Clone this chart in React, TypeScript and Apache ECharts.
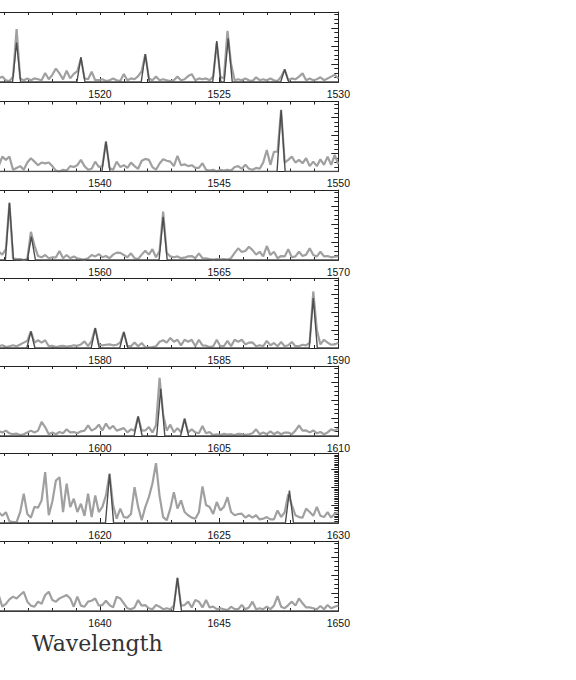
import React, { useEffect, useRef } from "react";
import * as echarts from "echarts";

// Panel wavelength ranges (each panel spans 20 units)
const panelStarts = [1510, 1530, 1550, 1570, 1590, 1610, 1630];
const panelSpan = 20;
// first tick label that falls inside the visible page
const firstVisibleLabelOffset = 10;
// light (observed) spectrum: sampled from panelStart + sampleOffset, every sampleStep
const sampleOffset = 5.6;
const sampleStep = 0.15;

const flux1 = [0.15,0.2,0.3,0.1,0.05,0.3,2.95,0.2,0.1,0.2,0.1,0.2,0.15,0.1,0.5,0.15,0.4,0.75,0.48,0.15,0.63,0.2,0.45,0.6,1.3,0.2,0.15,0.57,0.1,0.1,0.15,0.05,0.1,0.2,0.1,0.05,0.44,0.1,0.2,0.15,0.33,0.6,1.55,0.2,0.1,0.3,0.1,0.15,0.1,0.05,0.1,0.3,0.1,0.15,0.33,0.44,0.1,0.2,0.15,0.2,0.1,0.3,2.2,0.3,0.2,2.85,1.0,0.1,0.15,0.1,0.2,0.1,0.05,0.26,0.1,0.15,0.1,0.2,0.1,0.05,0.3,0.7,0.1,0.2,0.15,0.3,0.48,0.1,0.2,0.1,0.15,0.26,0.1,0.2,0.3,0.4,0.2];
const flux2 = [0.2,0.3,0.83,0.65,0.83,0.1,0.2,0.3,0.1,0.5,0.74,0.55,0.35,0.5,0.45,0.5,0.3,0.05,0.0,0.1,0.05,0.3,0.25,0.35,0.65,0.3,0.1,0.15,0.55,0.25,0.3,1.67,0.2,0.1,0.55,0.25,0.35,0.2,0.5,0.3,0.15,0.6,0.7,0.65,0.25,0.1,0.45,0.68,0.6,0.55,0.3,0.87,0.35,0.4,0.3,0.35,0.2,0.2,0.46,0.1,0.05,0.1,0.0,0.1,0.05,0.1,0.05,0.25,0.3,0.15,0.37,0.15,0.1,0.2,0.15,0.5,1.2,0.37,1.1,1.1,3.43,0.5,0.65,0.83,0.5,0.65,0.46,0.74,0.3,0.55,0.3,0.68,0.37,0.83,0.37,0.93,0.4];
const flux3 = [0.3,0.46,0.3,0.6,3.19,0.1,0.05,0.05,0.0,0.05,1.57,0.8,0.22,0.15,0.28,0.1,0.15,0.15,0.5,0.1,0.28,0.1,0.2,0.1,0.05,0.02,0.1,0.28,0.2,0.33,0.15,0.22,0.1,0.3,0.41,0.4,0.28,0.15,0.37,0.1,0.05,0.3,0.52,0.3,0.6,0.15,0.5,2.69,0.4,0.2,0.15,0.2,0.1,0.13,0.2,0.22,0.1,0.37,0.1,0.09,0.05,0.02,0.05,0.03,0.05,0.02,0.1,0.4,0.65,0.45,0.5,0.74,0.55,0.3,0.46,0.2,0.78,0.28,0.46,0.1,0.22,0.2,0.6,0.15,0.2,0.46,0.22,0.3,0.65,0.28,0.2,0.46,0.2,0.22,0.15,0.18,0.2];
const flux4 = [0.1,0.1,0.15,0.05,0.1,0.15,0.1,0.2,0.3,0.4,0.93,0.3,0.43,0.3,0.43,0.1,0.12,0.05,0.1,0.12,0.08,0.1,0.15,0.12,0.2,0.37,0.1,0.4,1.11,0.2,0.15,0.18,0.2,0.15,0.18,0.3,0.89,0.1,0.1,0.31,0.1,0.28,0.05,0.03,0.05,0.1,0.35,0.43,0.3,0.56,0.35,0.46,0.15,0.46,0.35,0.46,0.1,0.46,0.15,0.13,0.05,0.1,0.46,0.1,0.1,0.4,0.1,0.46,0.35,0.46,0.2,0.3,0.31,0.1,0.15,0.1,0.4,0.15,0.28,0.1,0.33,0.1,0.15,0.33,0.1,0.1,0.18,0.15,0.3,3.15,1.0,0.2,0.46,0.3,0.18,0.2,0.3];
const flux5 = [0.2,0.26,0.2,0.3,0.15,0.1,0.13,0.05,0.1,0.2,0.3,0.2,0.3,0.78,0.5,0.1,0.19,0.1,0.22,0.15,0.37,0.2,0.22,0.15,0.26,0.3,0.59,0.3,0.41,0.63,0.3,0.69,0.4,0.56,0.3,0.37,0.44,0.2,0.37,0.3,1.09,0.3,0.31,0.5,0.2,0.6,3.24,1.2,0.3,0.63,0.2,0.44,0.2,0.96,0.2,0.37,0.2,0.15,0.56,0.15,0.22,0.05,0.1,0.05,0.12,0.08,0.1,0.05,0.12,0.1,0.06,0.1,0.15,0.37,0.1,0.2,0.1,0.26,0.1,0.22,0.1,0.19,0.19,0.1,0.3,0.59,0.3,0.31,0.2,0.31,0.15,0.22,0.1,0.2,0.37,0.3,0.41];
const flux6 = [0.3,0.6,0.4,0.6,0.1,0.05,0.05,0.6,1.63,0.5,0.3,0.9,0.85,1.26,2.83,0.43,1.2,2.37,2.55,0.61,2.19,0.89,1.35,0.61,1.07,0.4,1.63,0.33,1.54,0.61,0.9,1.54,2.74,1.0,0.24,0.8,0.33,0.3,0.5,2.0,0.9,0.15,0.89,1.44,2.2,3.33,1.5,0.33,0.15,0.8,1.72,0.8,1.26,0.61,0.43,0.3,0.24,0.6,2.04,1.0,0.89,0.5,1.17,0.7,0.9,1.44,0.61,0.43,0.5,0.52,0.3,0.43,0.3,0.43,0.2,0.24,0.33,0.2,0.2,0.7,0.33,0.6,1.6,1.0,0.43,0.33,0.3,0.8,0.61,0.4,0.89,0.4,0.33,0.61,0.3,0.52,0.6];
const flux7 = [0.3,0.89,0.24,0.4,0.65,0.8,0.7,0.89,1.07,0.52,0.3,0.24,0.52,0.4,0.89,1.07,0.61,0.52,0.7,0.8,0.89,0.7,0.24,0.8,0.3,0.24,0.52,0.57,0.7,0.3,0.33,0.57,0.33,0.2,0.8,0.7,0.43,0.15,0.1,0.2,0.61,0.3,0.33,0.15,0.1,0.33,0.24,0.1,0.15,0.1,0.3,1.85,0.3,0.33,0.52,0.2,0.61,0.52,0.2,0.61,0.2,0.24,0.1,0.15,0.1,0.05,0.24,0.1,0.1,0.33,0.1,0.2,0.52,0.1,0.15,0.1,0.24,0.1,0.3,0.83,0.24,0.15,0.33,0.52,0.3,0.7,0.43,0.2,0.2,0.15,0.1,0.28,0.1,0.33,0.15,0.24,0.3];
const fluxes = [flux1, flux2, flux3, flux4, flux5, flux6, flux7];

// dark (model) line peaks
const lineCenters1 = [1516.5, 1519.2, 1521.9, 1524.9, 1525.38, 1527.75];
const lineHeights1 = [2.2, 1.38, 1.55, 2.28, 2.43, 0.7];
const lineCenters2 = [1540.25, 1547.6];
const lineHeights2 = [1.67, 3.43];
const lineCenters3 = [1556.2, 1557.12, 1562.65];
const lineHeights3 = [3.19, 1.3, 2.4];
const lineCenters4 = [1577.1, 1579.8, 1581.0, 1588.95];
const lineHeights4 = [0.93, 1.11, 0.89, 2.78];
const lineCenters5 = [1601.6, 1602.55, 1603.55];
const lineHeights5 = [1.09, 2.63, 0.96];
const lineCenters6 = [1620.4, 1627.95];
const lineHeights6 = [2.74, 1.81];
const lineCenters7 = [1643.25];
const lineHeights7 = [1.85];
const lineCenters = [lineCenters1, lineCenters2, lineCenters3, lineCenters4, lineCenters5, lineCenters6, lineCenters7];
const lineHeights = [lineHeights1, lineHeights2, lineHeights3, lineHeights4, lineHeights5, lineHeights6, lineHeights7];
const lineHalfWidth = 0.17;

const yMax = 3.9;
const xLabel = "Wavelength";

// layout (container is shifted left so the plot's left part falls off the page)
const SHIFT = 150;
const panelBottoms = [82, 171.5, 260, 348, 436, 523, 611];
const panelHeight = 70;
const gridLeft = 11.7;
const gridWidth = 476.6;
const minorSplits = [4, 4, 4, 4, 4, 10, 4];

export default function App() {
  const ref = useRef<HTMLDivElement>(null);
  useEffect(() => {
    if (!ref.current) return;
    const chart = echarts.init(ref.current, null, { renderer: "svg" });
    const grids: any[] = [];
    const xAxes: any[] = [];
    const yAxes: any[] = [];
    const series: any[] = [];
    const axisLine = { show: true, lineStyle: { color: "#222", width: 1 } };
    panelStarts.forEach((start, k) => {
      const end = start + panelSpan;
      grids.push({ left: gridLeft, width: gridWidth, top: panelBottoms[k] - panelHeight, height: panelHeight });
      xAxes.push({
        type: "value", gridIndex: k, position: "bottom", min: start, max: end, interval: 5,
        axisLine, splitLine: { show: false },
        axisTick: { show: true, inside: true, length: 5, lineStyle: { color: "#222" } },
        minorTick: { show: true, splitNumber: 5, length: 3, lineStyle: { color: "#222" } },
        axisLabel: {
          show: true, margin: 6, fontSize: 10.5, lineHeight: 11, color: "#111",
          fontFamily: "Liberation Sans, Arial, sans-serif", showMaxLabel: true, showMinLabel: true,
          formatter: (v: number) => (v >= start + firstVisibleLabelOffset ? String(Math.round(v)) : ""),
        },
      });
      xAxes.push({
        type: "value", gridIndex: k, position: "top", min: start, max: end, interval: 1,
        axisLine, splitLine: { show: false },
        axisTick: { show: true, inside: true, length: 3, lineStyle: { color: "#222" } },
        axisLabel: { show: false },
      });
      yAxes.push({
        type: "value", gridIndex: k, position: "right", min: 0, max: yMax, interval: 1,
        axisLine, splitLine: { show: false },
        axisTick: { show: true, inside: true, length: 7, lineStyle: { color: "#222" } },
        minorTick: { show: true, splitNumber: minorSplits[k], length: 4, lineStyle: { color: "#222" } },
        axisLabel: { show: false },
      });
      const lightData = fluxes[k].map((v, i) => [start + sampleOffset + i * sampleStep, v]);
      const darkData: number[][] = [[start + sampleOffset - 0.2, 0]];
      lineCenters[k].forEach((c, j) => {
        darkData.push([c - lineHalfWidth, 0], [c, lineHeights[k][j]], [c + lineHalfWidth, 0]);
      });
      darkData.push([end, 0]);
      series.push({
        type: "line", xAxisIndex: 2 * k, yAxisIndex: k, data: lightData, showSymbol: false,
        symbol: "none", lineStyle: { color: "#a0a0a0", width: 2.2 }, z: 2,
      });
      series.push({
        type: "line", xAxisIndex: 2 * k, yAxisIndex: k, data: darkData, showSymbol: false,
        symbol: "none", lineStyle: { color: "#4d4d4d", width: 1.4 }, z: 3,
      });
    });
    chart.setOption({
      animation: false,
      backgroundColor: "#ffffff",
      grid: grids,
      xAxis: xAxes,
      yAxis: yAxes,
      series,
      graphic: [
        {
          type: "text", x: 32 + SHIFT, y: 643,
          style: {
            text: xLabel, font: "22px 'DejaVu Serif', serif", fill: "#333", lineHeight: 16,
            align: "left", verticalAlign: "middle", textAlign: "left", textVerticalAlign: "middle",
          },
        },
      ],
    });
    return () => chart.dispose();
  }, []);
  return (
    <div
      ref={ref}
      style={{ position: "absolute", left: -SHIFT, top: 0, width: 576 + SHIFT, height: 680 }}
    />
  );
}
